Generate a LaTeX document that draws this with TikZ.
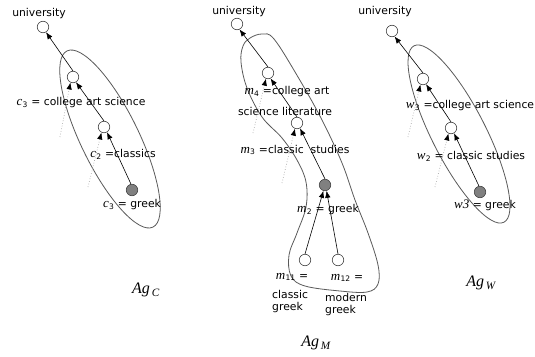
\documentclass[tikz,border=0pt]{standalone}
\usepackage{fontspec}
\setmainfont{DejaVu Sans}
\newfontfamily\varfont{Liberation Serif}
\newcommand{\myvar}[2]{{\varfont\itshape\fontsize{13}{13}\selectfont #1}\kern0.3pt\textsubscript{#2}}
\usetikzlibrary{arrows.meta}
\begin{document}
\begin{tikzpicture}[x=1pt,y=-1pt,
  nd/.style={circle, draw=black!75, fill=white, minimum size=11.5pt, inner sep=0pt, line width=0.6pt},
  gnd/.style={nd, fill=black!50},
  lbl/.style={font=\fontsize{10.8}{12}\selectfont, inner sep=0pt},
  agl/.style={font=\varfont\itshape\fontsize{16}{16}\selectfont, inner sep=0pt},
  arr/.style={-{Latex[length=7pt,width=5.5pt]}, line width=0.6pt},
  darr/.style={draw=black!35, dotted, line width=0.7pt, -{Latex[length=7pt,width=5.5pt,color=black]}},
  hull/.style={draw=black!65, line width=0.8pt}]
\useasboundingbox (0,0) rectangle (535,356);

% hulls
\draw[hull, rotate around={26:(110,139)}] (110,139) ellipse [x radius=29, y radius=98];
\draw[hull, rotate around={27:(459,134)}] (459,134) ellipse [x radius=27, y radius=99];
\draw[hull] plot[smooth cycle, tension=0.6] coordinates {(250,38) (262,34) (274,39) (298,77) (322,120) (342,163) (355,200) (368,233) (378,265) (378,284) (367,292) (340,291) (305,286) (291,276) (289,255) (297,233) (306,207) (306,182) (297,160) (282,138) (262,117) (247,88) (241,62) (243,46)};

% ---------- panel C ----------
\node[nd] (uC) at (43,27) {};
\node[nd] (c3) at (73,77) {};
\node[nd] (c2) at (104,127) {};
\node[gnd] (cg) at (132,190) {};
\node[lbl] (luC) at (39,14) {university};
\node[lbl] (lc3) at (81,103) {\myvar{c}{3} = college art science};
\node[lbl] (lc2) at (123,154) {\myvar{c}{2} =classics};
\node[lbl] (lcg) at (132,205) {\myvar{c}{3} = greek};
\coordinate (dc1) at (60,137);
\coordinate (dc2) at (88,187);
\draw[arr] (cg.100) -- (c2.-60);
\draw[arr] (c2.north) -- (c3.-60);
\draw[arr] (c3.north) -- (uC.-60);
\draw[darr] (dc1) -- (c3.-115);
\draw[darr] (dc2) -- (c2.-115);
\node[agl] (agc) at (146,290) {Ag\textsubscript{\,C}};

% ---------- panel M ----------
\node[nd] (uM) at (237,24) {};
\node[nd] (m4) at (268,73) {};
\node[nd] (m3) at (297,123) {};
\node[gnd] (m2) at (325,185) {};
\node[nd] (m11) at (305,260) {};
\node[nd] (m12) at (338,260) {};
\node[lbl] (luM) at (239,12) {university};
\node[lbl] (lm4) at (287,92) {\myvar{m}{4} =college art};
\node[lbl] (lm4b) at (285,111) {science literature};
\node[lbl] (lm3) at (295,150) {\myvar{m}{3} =classic\ \ studies};
\node[lbl] (lm2) at (328,210) {\myvar{m}{2} = greek};
\node[lbl] (lm11) at (292,277) {\myvar{m}{11} =};
\node[lbl, anchor=west] (lm11b) at (272,294) {classic};
\node[lbl, anchor=west] (lm11c) at (272,308) {greek};
\node[lbl] (lm12) at (347,278) {\myvar{m}{12} =};
\node[lbl, anchor=west] (lm12b) at (325,297) {modern};
\node[lbl, anchor=west] (lm12c) at (325,311) {greek};
\coordinate (dm1) at (253,133);
\coordinate (dm2) at (282,183);
\draw[arr] (m11.north) -- (m2.-105);
\draw[arr] (m12.north) -- (m2.-75);
\draw[arr] (m2.north) -- (m3.-60);
\draw[arr] (m3.north) -- (m4.-65);
\draw[arr] (m4.north) -- (uM.-65);
\draw[darr] (dm1) -- (m4.-110);
\draw[darr] (dm2) -- (m3.-110);
\node[agl] (agm) at (316,343) {Ag\textsubscript{\,M}};

% ---------- panel W ----------
\node[nd] (uW) at (392,31) {};
\node[nd] (w3) at (423,79) {};
\node[nd] (w2) at (451,128) {};
\node[gnd] (wg) at (480,192) {};
\node[lbl] (luW) at (385,12) {university};
\node[lbl] (lw3) at (470,106) {\myvar{w}{3} =college art science};
\node[lbl] (lw2) at (471,156) {\myvar{w}{2} = classic studies};
\node[lbl] (lwg) at (485,205) {{\varfont\itshape\fontsize{13}{13}\selectfont w3} = greek};
\coordinate (dw1) at (408,137);
\coordinate (dw2) at (435,187);
\draw[arr] (wg.100) -- (w2.-60);
\draw[arr] (w2.north) -- (w3.-60);
\draw[arr] (w3.north) -- (uW.-65);
\draw[darr] (dw1) -- (w3.-115);
\draw[darr] (dw2) -- (w2.-115);
\node[agl] (agw) at (481,283) {Ag\textsubscript{\,W}};
\end{tikzpicture}
\end{document}
